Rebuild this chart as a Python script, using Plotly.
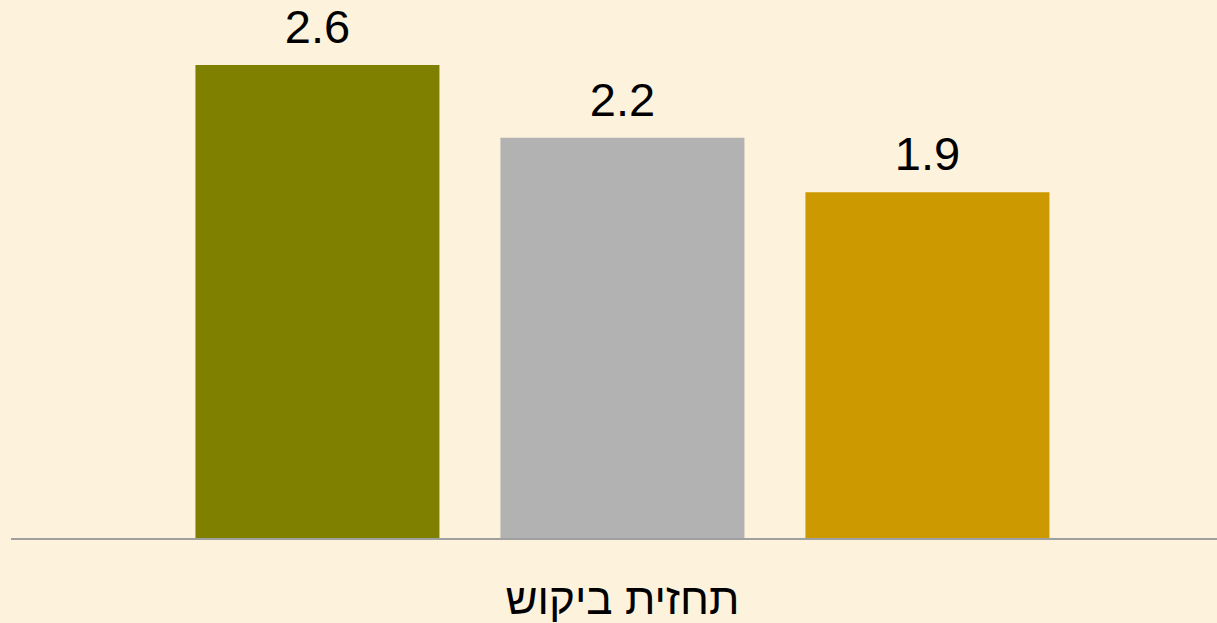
import plotly.graph_objects as go

categories = ["תחזית ביקוש"]
series_names = ["סדרה 1", "סדרה 2", "סדרה 3"]
series_values = [[2.6], [2.2], [1.9]]
series_labels = [["2.6"], ["2.2"], ["1.9"]]
colors = ["#808000", "#B2B2B2", "#CC9900"]

FONT = "Liberation Sans, Arial, sans-serif"
GAP = 0.2413

fig = go.Figure()
for name, vals, col in zip(series_names, series_values, colors):
    fig.add_trace(go.Bar(
        x=categories, y=vals, name=name,
        marker=dict(color=col, line=dict(width=0)),
    ))
# value labels: grouped text traces aligned to the bar slots
for name, vals, labs in zip(series_names, series_values, series_labels):
    fig.add_trace(go.Scatter(
        x=categories, y=vals, name=name + " label", mode="markers+text",
        text=labs, textposition="top center", cliponaxis=False,
        marker=dict(size=15, opacity=0),
        textfont=dict(family=FONT, size=47, color="#000000"),
        hoverinfo="skip",
    ))

fig.update_layout(
    width=1217, height=623,
    margin=dict(l=11, r=0, t=0, b=82),
    paper_bgcolor="#FDF2DB", plot_bgcolor="rgba(0,0,0,0)",
    barmode="group", bargap=GAP, bargroupgap=0.2,
    scattermode="group", scattergap=GAP,
    showlegend=False,
    font=dict(family=FONT, color="#000000"),
)
fig.update_xaxes(
    type="category", range=[-0.507, 0.493],
    showline=True, linecolor="#A0A0A0", linewidth=2,
    ticks="", showgrid=False, zeroline=False,
    tickfont=dict(size=44, family=FONT),
    ticklabelstandoff=21,
)
fig.update_yaxes(
    range=[0, 2.957], visible=False, showgrid=False, zeroline=False,
)
fig.write_html("out.html")
